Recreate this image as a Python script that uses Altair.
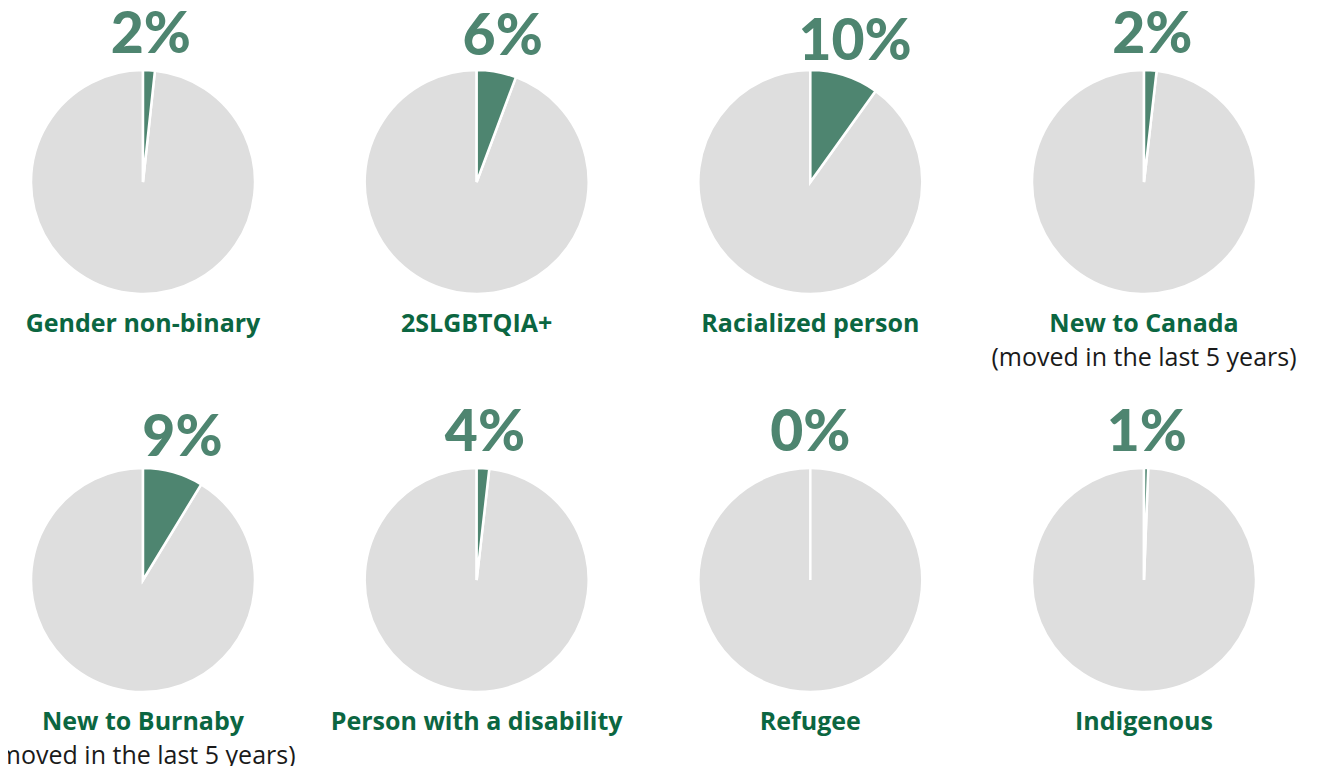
import altair as alt
import pandas as pd

names = ["Gender non-binary", "2SLGBTQIA+", "Racialized person", "New to Canada",
         "New to Burnaby", "Person with a disability", "Refugee", "Indigenous"]
pct_labels = ["2%", "6%", "10%", "2%", "9%", "4%", "0%", "1%"]
shares = [1.7, 5.7, 9.9, 1.8, 8.7, 1.8, 0.0, 0.6]
subtitles = ["", "", "", "(moved in the last 5 years)",
             "(moved in the last 5 years)", "", "", ""]

NCOL = 4
rows = []
for i, n in enumerate(names):
    for part, v, o in (("share", shares[i], 0), ("rest", 100 - shares[i], 1)):
        rows.append(dict(name=n, label=pct_labels[i], sub=subtitles[i],
                         col=i % NCOL, row=i // NCOL, part=part, value=v, ord=o))
df = pd.DataFrame(rows)

GREEN = "#4E8570"
DARK_GREEN = "#0B6641"
GREY = "#DEDEDE"

xenc = alt.X("col:Q", scale=alt.Scale(domain=[0, 3], range=[135, 1136], nice=False, zero=False), axis=None)
yenc = alt.Y("row:Q", scale=alt.Scale(domain=[0, 1], range=[174, 572], nice=False, zero=False), axis=None)
tscale = alt.Scale(domain=[0, 100])

base = (alt.Chart(df)
        .transform_stack(stack="value", groupby=["name"], sort=[alt.SortField("ord")], as_=["v0", "v1"])
        .transform_calculate(mid="(datum.v0 + datum.v1) / 2"))

grey = base.transform_filter("datum.part == 'rest'").mark_arc(
    outerRadius=112, stroke="white", strokeWidth=2.5, color=GREY
).encode(x=xenc, y=yenc, theta=alt.Theta("v0:Q", scale=tscale), theta2="v1:Q")

green = base.transform_filter("datum.part == 'share'").mark_arc(
    outerRadius=112, stroke="white", strokeWidth=2.5, color=GREEN
).encode(x=xenc, y=yenc, theta=alt.Theta("v0:Q", scale=tscale), theta2="v1:Q")

share = base.transform_filter("datum.part == 'share'")

pct = share.mark_text(font="Lato", fontWeight=900, fontSize=57, color=GREEN,
                      align="center", baseline="middle").encode(
    x=xenc, y=yenc, theta=alt.Theta("mid:Q", scale=tscale), radius=alt.value(146), text="label:N")

lab = share.mark_text(font="Open Sans", fontWeight="bold", fontSize=25, color=DARK_GREEN,
                      align="center", baseline="middle", dy=142).encode(
    x=xenc, y=yenc, text="name:N")

sub = share.mark_text(font="Open Sans", fontSize=25, color="#1a1a1a",
                      align="center", baseline="middle", dy=176).encode(
    x=xenc, y=yenc, text="sub:N")

chart = alt.layer(grey, green, pct, lab, sub).properties(
    width=1327, height=758, padding=0,
    autosize=alt.AutoSizeParams(type="none"),
).configure_view(stroke=None)

chart.save("out.html", embed_options={"renderer": "svg", "actions": False})
